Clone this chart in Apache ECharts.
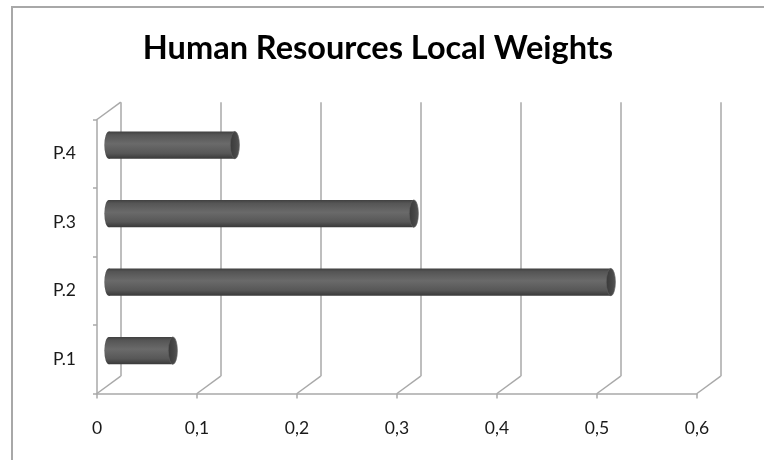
<!DOCTYPE html>
<html>
<head>
<meta charset="utf-8">
<script src="https://cdn.jsdelivr.net/npm/echarts@6/dist/echarts.min.js"></script>
<style>
  html, body { margin: 0; padding: 0; background: #fff; }
  #chart { width: 764px; height: 460px; }
</style>
</head>
<body>
<div id="chart"></div>
<script>
// Data
const categories = ['P.1', 'P.2', 'P.3', 'P.4'];
const weights = [0.064, 0.502, 0.305, 0.126];
const tickValues = [0, 0.1, 0.2, 0.3, 0.4, 0.5, 0.6];

// Pseudo-3D layout: front plane (axes), back wall (gridlines), bars halfway between
const FRONT = { left: 97, top: 119.5, right: 67, bottom: 66.5 };
const DX = 23.7, DY = 17.3;
const BACK = { left: FRONT.left + DX, top: FRONT.top - DY, right: FRONT.right - DX, bottom: FRONT.bottom + DY };
const MID = { left: FRONT.left + DX / 2, top: FRONT.top - DY / 2, right: FRONT.right - DX / 2, bottom: FRONT.bottom + DY / 2 };

const LINE = '#a9a9a9';
const FONT = 'Lato';

const chart = echarts.init(document.getElementById('chart'), null, { renderer: 'canvas' });

function valueAxis(gridIndex, extra) {
  return Object.assign({
    type: 'value', gridIndex, min: 0, max: 0.6, interval: 0.1,
    axisLine: { show: false }, axisTick: { show: false }, axisLabel: { show: false },
    splitLine: { show: false }
  }, extra || {});
}
function catAxis(gridIndex, extra) {
  return Object.assign({
    type: 'category', gridIndex, data: categories,
    axisLine: { show: false }, axisTick: { show: false }, axisLabel: { show: false },
    splitLine: { show: false }
  }, extra || {});
}

// Cylinder bar drawn along the mid-depth plane
function renderCylinder(params, api) {
  const idx = api.value(0);
  const val = api.value(1);
  const start = api.coord([0, idx]);
  const end = api.coord([val, idx]);
  const band = api.size([0, 1])[1];
  const h = band * 0.4;
  const ry = h / 2;
  const rx = ry * 0.33;
  const cy = start[1];
  const x0 = start[0], x1 = end[0];
  const bodyFill = new echarts.graphic.LinearGradient(0, 0, 0, 1, [
    { offset: 0, color: '#3f3f3f' },
    { offset: 0.12, color: '#555555' },
    { offset: 0.45, color: '#6a6a6a' },
    { offset: 0.8, color: '#575757' },
    { offset: 1, color: '#383838' }
  ]);
  const capFill = new echarts.graphic.LinearGradient(0, 0, 1, 0, [
    { offset: 0, color: '#3a3a3a' },
    { offset: 0.6, color: '#474747' },
    { offset: 1, color: '#555555' }
  ]);
  return {
    type: 'group',
    children: [
      { type: 'circle', x: x0, y: cy, scaleX: rx / ry, shape: { cx: 0, cy: 0, r: ry }, style: { fill: bodyFill } },
      { type: 'rect', shape: { x: x0, y: cy - ry, width: Math.max(0, x1 - x0), height: h }, style: { fill: bodyFill } },
      { type: 'circle', x: x1, y: cy, scaleX: rx / ry, shape: { cx: 0, cy: 0, r: ry },
        style: { fill: capFill, stroke: '#5e5e5e', lineWidth: 1 } }
    ]
  };
}

// Depth connectors from the front axis ticks back to the wall
function renderConnector(params, api) {
  const v = api.value(0);
  const x = api.coord([v, 0])[0];
  const cs = params.coordSys;
  const bottom = cs.y + cs.height;
  const children = [{
    type: 'line',
    shape: { x1: x, y1: bottom, x2: x + DX, y2: bottom - DY },
    style: { stroke: LINE, lineWidth: 1.5 }
  }];
  if (v === 0) {
    children.push({
      type: 'line',
      shape: { x1: x, y1: cs.y, x2: x + DX, y2: cs.y - DY },
      style: { stroke: LINE, lineWidth: 1.5 }
    });
  }
  return { type: 'group', children };
}

const option = {
  animation: false,
  backgroundColor: '#ffffff',
  title: {
    text: 'Human Resources Local Weights',
    left: 373, top: 27, textAlign: 'center',
    textStyle: { fontFamily: FONT, fontWeight: 'bold', fontSize: 32.5, color: '#000' }
  },
  graphic: [{
    type: 'rect', shape: { x: 12, y: 7, width: 800, height: 500 },
    style: { fill: 'none', stroke: '#a8a8a8', lineWidth: 2 }, silent: true
  }],
  grid: [
    Object.assign({}, BACK),
    Object.assign({}, FRONT),
    Object.assign({}, MID)
  ],
  xAxis: [
    valueAxis(0, { splitLine: { show: true, lineStyle: { color: LINE, width: 1.5 } } }),
    valueAxis(1, {
      axisLine: { show: true, lineStyle: { color: LINE, width: 1.5 } },
      axisTick: { show: true, length: 5, lineStyle: { color: LINE, width: 1.5 } },
      axisLabel: {
        show: true, margin: 26, color: '#1a1a1a', fontFamily: FONT, fontSize: 17.5,
        formatter: v => String(+v.toFixed(1)).replace('.', ',')
      }
    }),
    valueAxis(2)
  ],
  yAxis: [
    catAxis(0),
    catAxis(1, {
      axisLine: { show: true, lineStyle: { color: LINE, width: 1.5 } },
      axisTick: { show: true, length: 4, lineStyle: { color: LINE, width: 1.5 } },
      axisLabel: { show: true, margin: 21, color: '#1a1a1a', fontFamily: FONT, fontSize: 17.5 }
    }),
    catAxis(2)
  ],
  series: [
    {
      type: 'custom', xAxisIndex: 1, yAxisIndex: 1,
      data: tickValues.map(v => [v, 0]),
      encode: { x: 0, y: 1 },
      renderItem: renderConnector,
      silent: true, z: 1
    },
    {
      type: 'custom', xAxisIndex: 2, yAxisIndex: 2,
      data: weights.map((w, i) => [i, w]),
      encode: { x: 1, y: 0 },
      renderItem: renderCylinder,
      z: 5
    }
  ]
};

chart.setOption(option);
</script>
</body>
</html>
